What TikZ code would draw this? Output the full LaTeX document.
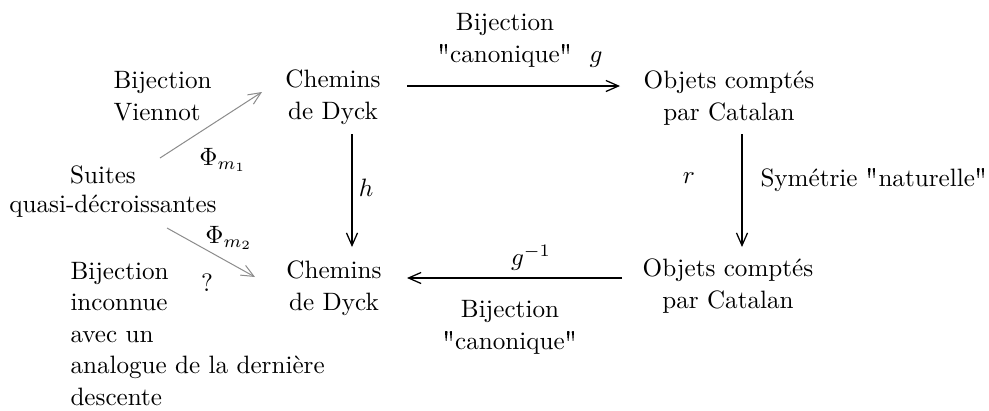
\documentclass[tikz,border=0pt]{standalone}
\usetikzlibrary{arrows.meta}
\newcommand\qdbl{{\fontencoding{T1}\selectfont\char34}}
\begin{document}
\begin{tikzpicture}[x=0.398pt,y=-0.398pt,
  every node/.style={inner sep=0pt, font=\fontsize{10}{12.5}\selectfont},
  lbl/.style={anchor=base, align=center},
  lft/.style={anchor=base west, align=left},
  arr/.style={line width=0.5pt, -{Straight Barb[length=5pt,width=4.4pt]}},
  garr/.style={arr, draw=black!45, line width=0.4pt}]
\useasboundingbox (0,0) rectangle (989,410);
% text nodes (anchor = baseline of last line)
\node[lbl] (c1) at (333,119) {Chemins\\de Dyck};
\node[lbl] (o1) at (729,120) {Objets comptés\\par Catalan};
\node[lbl] (c2) at (334,310) {Chemins\\de Dyck};
\node[lbl] (o2) at (728,308) {Objets comptés\\par Catalan};
\node[anchor=base] (s1) at (103,183) {Suites};
\node[anchor=base] (s2) at (113,212) {quasi-décroissantes};
\node[lft] (bv) at (113,120) {Bijection\\Viennot};
\node[lbl] (bc1) at (505,62) {Bijection\\\qdbl canonique\qdbl};
\node[anchor=base] (g) at (596,62) {$g$};
\node[lbl] (bc2) at (510,349) {Bijection\\\qdbl canonique\qdbl};
\node (ginv) at (531,258) {$g^{-1}$};
\node (h) at (366,188) {$h$};
\node (r) at (689,178) {$r$};
\node[anchor=base west] (sym) at (760,186) {Symétrie \qdbl naturelle\qdbl};
\node (phi1) at (223,160) {$\Phi_{m_1}$};
\node (phi2) at (229,238) {$\Phi_{m_2}$};
\node (q) at (207,283) {?};
\node[lft] (bi) at (70,405) {Bijection\\inconnue\\avec un\\analogue de la dernière\\descente};
% connector end points
\coordinate (gA) at (407,86);
\coordinate (gB) at (620,86);
\coordinate (hA) at (352,134);
\coordinate (hB) at (352,247);
\coordinate (rA) at (742,134);
\coordinate (rB) at (742,247);
\coordinate (iA) at (622,278);
\coordinate (iB) at (407,278);
\coordinate (p1A) at (160,158);
\coordinate (p1B) at (262,92);
\coordinate (p2A) at (167,228);
\coordinate (p2B) at (255,277);
% connectors
\draw[arr] (gA) -- (gB);
\draw[arr] (hA) -- (hB);
\draw[arr] (rA) -- (rB);
\draw[arr] (iA) -- (iB);
\draw[garr] (p1A) -- (p1B);
\draw[garr] (p2A) -- (p2B);
\end{tikzpicture}
\end{document}
